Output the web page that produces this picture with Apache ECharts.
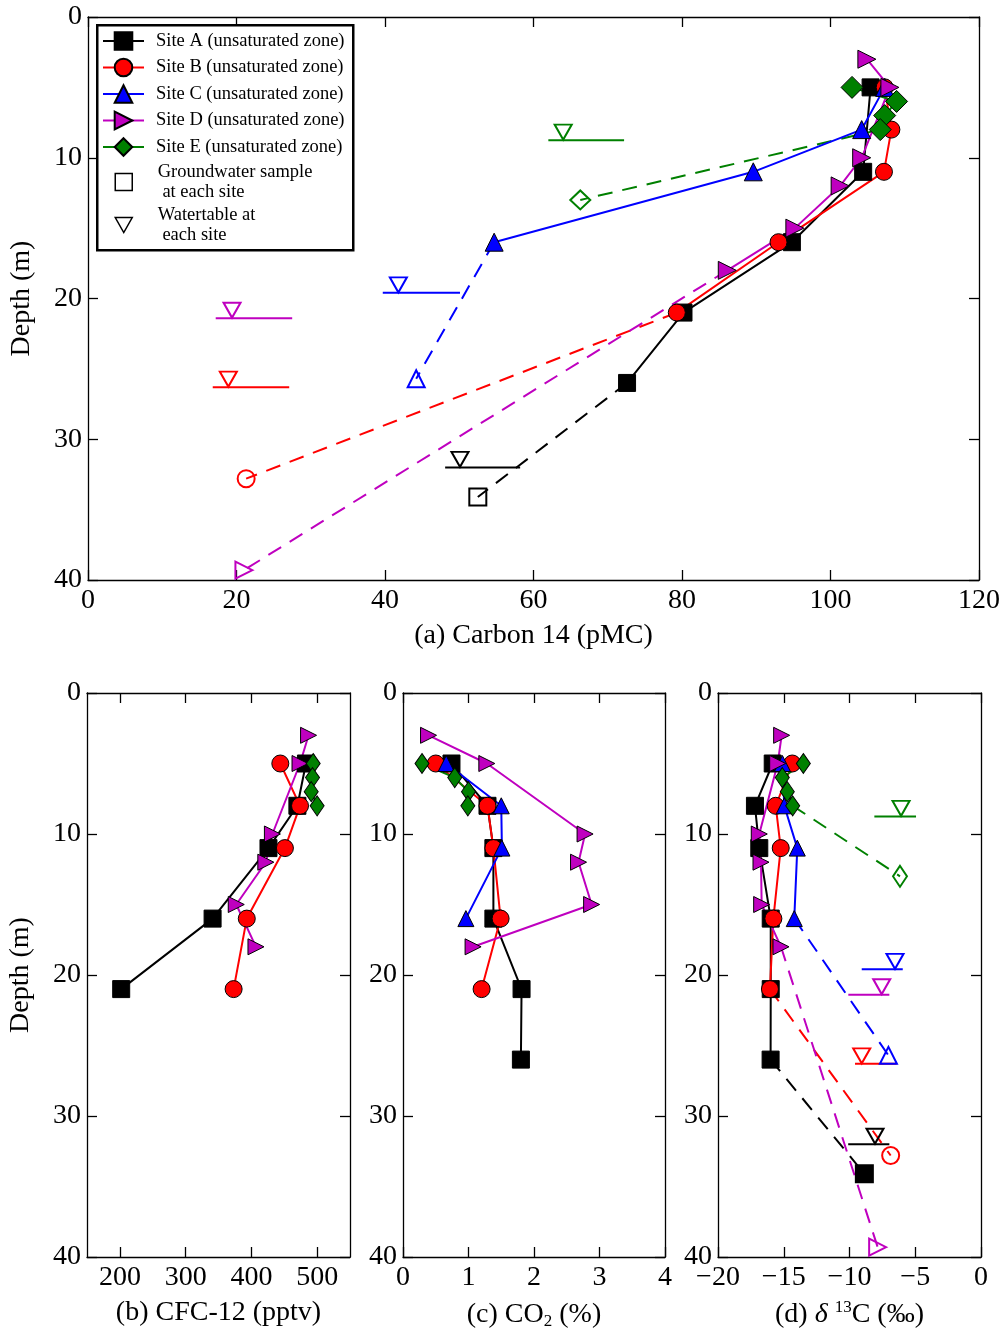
<!DOCTYPE html>
<html>
<head>
<meta charset="utf-8">
<title>Unsaturated zone depth profiles</title>
<script src="https://cdn.jsdelivr.net/npm/echarts@6/dist/echarts.min.js"></script>
<style>
  html, body { margin: 0; padding: 0; background: #fff; }
  #chart { width: 1006px; height: 1336px; }
</style>
</head>
<body>
<div id="chart"></div>
<script>
// ---- Sampling depths (m) for each site ----
const depthA = [5, 8, 11, 16, 21, 26];
const depthB = [5, 8, 11, 16, 21];
const depthC = [5, 8, 11, 16];
const depthD = [3, 5, 10, 12, 15, 18];
const depthE = [5, 6, 7, 8];

// ---- (a) Carbon 14 (pMC) ----
const c14A = [105.4, null, 104.4, 94.8, 80.2, 72.6];
const c14B = [107.3, 108.2, 107.2, 93.0, 79.3];
const c14C = [107.3, 104.2, 89.6, 54.7];
const c14D = [104.9, 108.0, 104.2, 101.3, 95.2, 86.1];
const c14E = [102.9, 108.9, 107.3, 106.7];

// ---- (b) CFC-12 (pptv) ----
const cfcA = [483, 470, 426, 341, 202, null];
const cfcB = [444, 474, 451, 393, 373];
const cfcC = null;
const cfcD = [487, 474, 432, 422, 377, 407];
const cfcE = [494, 493, 491, 500];

// ---- (c) CO2 (%) ----
const co2A = [0.74, 1.29, 1.38, 1.38, 1.81, 1.80];
const co2B = [0.50, 1.29, 1.38, 1.49, 1.20];
const co2C = [0.66, 1.50, 1.51, 0.96];
const co2D = [0.39, 1.28, 2.78, 2.68, 2.88, 1.07];
const co2E = [0.29, 0.79, 1.00, 0.99];

// ---- (d) delta 13C (permil) ----
const d13cA = [-15.84, -17.19, -16.86, -15.99, -15.99, -16.0];
const d13cB = [-14.35, -15.61, -15.23, -15.79, -16.05];
const d13cC = [-15.1, -14.96, -13.97, -14.2];
const d13cD = [-15.16, -15.46, -16.86, -16.73, -16.68, -15.21];
const d13cE = [-13.51, -15.11, -14.73, -14.32];

// ---- Groundwater sample at each site (A..E) ----
const groundwaterDepth = [34.1, 32.8, 25.7, 39.3, 13.0];
const groundwaterC14 = [52.5, 21.3, 44.2, 21.0, 66.3];
const groundwaterD13C = [-8.87, -6.87, -7.04, -7.86, -6.16];

// ---- Watertable at each site (A..E): depth and span of the level bar ----
const watertableDepth = [32.0, 26.3, 19.6, 21.4, 8.75];
const watertableC14From = [48.1, 16.8, 39.7, 17.2, 62.0];
const watertableC14To = [58.2, 27.1, 50.1, 27.5, 72.2];
const watertableC14Mark = [50.1, 18.9, 41.8, 19.4, 64.0];
const watertableD13CFrom = [-10.1, -9.58, -9.07, -10.09, -8.11];
const watertableD13CTo = [-6.97, -6.41, -5.95, -6.97, -4.94];
const watertableD13CMark = [-8.06, -9.07, -6.54, -7.55, -6.08];

// ---- Tick values ----
const depthTicks = [0, 10, 20, 30, 40];
const c14Ticks = [0, 20, 40, 60, 80, 100, 120];
const cfcTicks = [200, 300, 400, 500];
const co2Ticks = [0, 1, 2, 3, 4];
const d13cTicks = [-20, -15, -10, -5, 0];

const siteNames = [
  'Site A (unsaturated zone)',
  'Site B (unsaturated zone)',
  'Site C (unsaturated zone)',
  'Site D (unsaturated zone)',
  'Site E (unsaturated zone)'
];
const groundwaterName = 'Groundwater sample\n at each site';
const watertableName = 'Watertable at\n each site';

// ---- Styling ----
const FONT = 'Liberation Serif';
const siteColors = ['#000000', '#ff0000', '#0000ff', '#bf00bf', '#008000'];
const siteSymbols = ['rect', 'circle', 'triangle', 'triangle', 'diamond'];
const siteRotate = [0, 0, 0, -90, 0];
const siteDepths = [depthA, depthB, depthC, depthD, depthE];
const HOLLOW = 'rgba(255,255,255,0)';

function symbolSize(s, big) {
  if (siteSymbols[s] === 'diamond') return big ? [22, 22] : [14, 20];
  if (siteSymbols[s] === 'triangle') return big ? 18 : 16;
  return 17;
}
function points(vals, deps) {
  return deps.map((d, i) => [vals[i], d]).filter(p => p[0] != null);
}
const minus = v => (v < 0 ? '\u2212' + Math.abs(v) : String(v));

const grids = [
  { left: 88, top: 17, width: 891, height: 563 },
  { left: 87, top: 693, width: 263, height: 564 },
  { left: 403, top: 693, width: 262, height: 564 },
  { left: 718, top: 693, width: 263, height: 564 }
];

const panels = [
  {
    values: [c14A, c14B, c14C, c14D, c14E], min: 0, max: 120, ticks: c14Ticks,
    name: '(a) Carbon 14 (pMC)', yName: 'Depth (m)',
    gw: groundwaterC14,
    wt: { from: watertableC14From, to: watertableC14To, mark: watertableC14Mark }
  },
  {
    values: [cfcA, cfcB, cfcC, cfcD, cfcE], min: 150, max: 550, ticks: cfcTicks,
    name: '(b) CFC-12 (pptv)', yName: 'Depth (m)'
  },
  {
    values: [co2A, co2B, co2C, co2D, co2E], min: 0, max: 4, ticks: co2Ticks,
    name: '(c) CO{sub|2} (%)', yName: ''
  },
  {
    values: [d13cA, d13cB, d13cC, d13cD, d13cE], min: -20, max: 0, ticks: d13cTicks,
    name: '(d) {i|\u03b4} {sup|13}C (\u2030)', yName: '', fmt: minus,
    gw: groundwaterD13C,
    wt: { from: watertableD13CFrom, to: watertableD13CTo, mark: watertableD13CMark }
  }
];

const LABEL_SIZE = 28;
const NAME_SIZE = 28;
const frameLine = { show: true, onZero: false, lineStyle: { color: '#000', width: 1.3 } };
const nameRich = {
  sub: { fontFamily: FONT, fontSize: 17, color: '#000', padding: [14, 0, 0, 0] },
  sup: { fontFamily: FONT, fontSize: 17, color: '#000', padding: [0, 0, 14, 0] },
  i: { fontFamily: FONT, fontSize: NAME_SIZE, fontStyle: 'italic', color: '#000' }
};

const xAxis = [], yAxis = [], series = [];

panels.forEach((p, pi) => {
  const big = pi === 0;
  // bottom (labelled) and top (ticks only) value axes
  ['bottom', 'top'].forEach(pos => {
    xAxis.push({
      gridIndex: pi, type: 'value', position: pos, min: p.min, max: p.max,
      axisLine: frameLine,
      axisTick: { show: true, inside: true, length: 10, customValues: p.ticks, lineStyle: { color: '#000', width: 1.3 } },
      axisLabel: {
        show: pos === 'bottom', customValues: p.ticks, margin: 7, color: '#000',
        fontFamily: FONT, fontSize: LABEL_SIZE, formatter: p.fmt || (v => String(v))
      },
      splitLine: { show: false },
      name: pos === 'bottom' ? p.name : '',
      nameLocation: 'middle', nameGap: 42,
      nameTextStyle: { fontFamily: FONT, fontSize: NAME_SIZE, color: '#000', rich: nameRich }
    });
  });
  // left (labelled) and right (ticks only) depth axes
  ['left', 'right'].forEach(pos => {
    yAxis.push({
      gridIndex: pi, type: 'value', position: pos, inverse: true, min: 0, max: 40, interval: 10,
      axisLine: frameLine,
      axisTick: { show: true, inside: true, length: 10, customValues: depthTicks, lineStyle: { color: '#000', width: 1.3 } },
      axisLabel: {
        show: pos === 'left', customValues: depthTicks, margin: 6, color: '#000',
        fontFamily: FONT, fontSize: LABEL_SIZE
      },
      splitLine: { show: false },
      name: pos === 'left' ? p.yName : '',
      nameLocation: 'middle', nameGap: 52,
      nameTextStyle: { fontFamily: FONT, fontSize: NAME_SIZE, color: '#000' }
    });
  });

  const xi = 2 * pi, yi = 2 * pi;

  // watertable level bars
  if (p.wt) {
    siteNames.forEach((_, s) => {
      series.push({
        type: 'line', xAxisIndex: xi, yAxisIndex: yi, silent: true, symbol: 'none', z: 2,
        lineStyle: { color: siteColors[s], width: 2 },
        data: [[p.wt.from[s], watertableDepth[s]], [p.wt.to[s], watertableDepth[s]]]
      });
    });
  }

  // dashed link from the deepest unsaturated-zone sample to the groundwater sample
  if (p.gw) {
    siteNames.forEach((_, s) => {
      const pts = points(p.values[s], siteDepths[s]);
      series.push({
        type: 'line', xAxisIndex: xi, yAxisIndex: yi, silent: true, symbol: 'none', z: 2,
        lineStyle: { color: siteColors[s], width: 2, type: [15, 10] },
        data: [pts[pts.length - 1], [p.gw[s], groundwaterDepth[s]]]
      });
    });

    // groundwater samples: hollow site symbols (site A's delta 13C sample is drawn solid)
    series.push({
      type: 'scatter', name: groundwaterName, xAxisIndex: xi, yAxisIndex: yi, z: 3,
      symbol: 'rect', symbolSize: 17,
      itemStyle: { color: HOLLOW, borderColor: '#000', borderWidth: 2, opacity: 1 },
      data: siteNames.map((_, s) => ({
        value: [p.gw[s], groundwaterDepth[s]],
        symbol: siteSymbols[s], symbolRotate: siteRotate[s],
        symbolSize: siteSymbols[s] === 'diamond' ? (big ? [20, 19] : [14, 21]) : 17,
        itemStyle: {
          color: (pi === 3 && s === 0) ? '#000' : HOLLOW,
          borderColor: siteColors[s], borderWidth: 2, opacity: 1
        }
      }))
    });

    // watertable markers: hollow downward triangles sitting on the level bar
    series.push({
      type: 'scatter', name: watertableName, xAxisIndex: xi, yAxisIndex: yi, z: 3,
      symbol: 'triangle', symbolRotate: 180, symbolSize: [17, 15], symbolOffset: [0, -8],
      itemStyle: { color: HOLLOW, borderColor: '#000', borderWidth: 2, opacity: 1 },
      data: siteNames.map((_, s) => ({
        value: [p.wt.mark[s], watertableDepth[s]],
        itemStyle: { color: HOLLOW, borderColor: siteColors[s], borderWidth: 2, opacity: 1 }
      }))
    });
  }

  // unsaturated-zone profiles
  siteNames.forEach((name, s) => {
    if (!p.values[s]) return;
    series.push({
      type: 'line', name: name, xAxisIndex: xi, yAxisIndex: yi, z: 4,
      symbol: siteSymbols[s], symbolRotate: siteRotate[s], symbolSize: symbolSize(s, big),
      showAllSymbol: true,
      lineStyle: { color: siteColors[s], width: 2 },
      itemStyle: { color: siteColors[s], borderColor: '#000', borderWidth: 1 },
      emphasis: { disabled: true },
      data: points(p.values[s], siteDepths[s])
    });
  });
});

const legendText = { fontFamily: FONT, fontSize: 18.5, color: '#000', lineHeight: 20, padding: [0, 0, 0, 7] };

const option = {
  animation: false,
  backgroundColor: '#ffffff',
  textStyle: { fontFamily: FONT },
  grid: grids.map(g => Object.assign({ containLabel: false, outerBoundsMode: 'none' }, g)),
  xAxis: xAxis,
  yAxis: yAxis,
  legend: [
    {
      data: siteNames, orient: 'vertical', left: 102, top: 30, padding: 0,
      itemWidth: 41, itemHeight: 22, itemGap: 4.5, selectedMode: false,
      textStyle: Object.assign({}, legendText, { lineHeight: 22 }), z: 10
    },
    {
      // icon-only entries: narrow icon box centred under the site-legend markers
      data: [
        { name: groundwaterName, icon: 'rect', itemStyle: { color: HOLLOW, borderColor: '#000', borderWidth: 1.5 } },
        { name: watertableName, icon: 'path://M0,0L17,0L8.5,15Z', itemStyle: { color: HOLLOW, borderColor: '#000', borderWidth: 1.5 } }
      ],
      orient: 'vertical', left: 114.5, top: 162, padding: 0,
      itemWidth: 17, itemHeight: 17, itemGap: 3, selectedMode: false,
      textStyle: Object.assign({}, legendText, { padding: [0, 0, 0, 20.5] }), z: 10
    }
  ],
  graphic: [
    {
      type: 'rect', left: 96, top: 24, z: 8,
      shape: { width: 256, height: 225 },
      style: { fill: '#ffffff', stroke: '#000000', lineWidth: 2.5 }
    }
  ],
  series: series
};

const chart = echarts.init(document.getElementById('chart'), null, { renderer: 'canvas' });
chart.setOption(option);
</script>
</body>
</html>
